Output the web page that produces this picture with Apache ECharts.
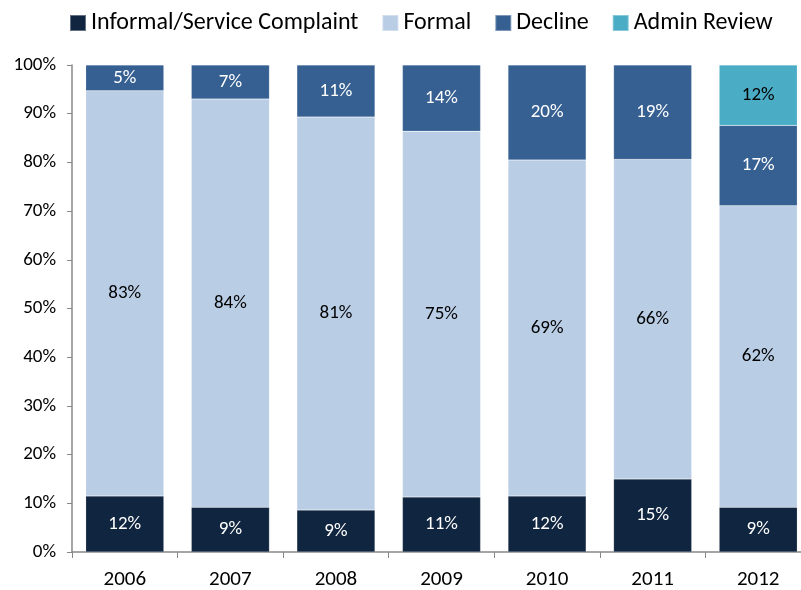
<!DOCTYPE html>
<html>
<head>
<meta charset="utf-8">
<script src="https://cdn.jsdelivr.net/npm/echarts@6/dist/echarts.min.js"></script>
<style>
html,body{margin:0;padding:0;background:#fff;overflow:hidden;width:801px;height:590px;}
#chart{width:812px;height:590px;}
</style>
</head>
<body>
<div id="chart"></div>
<script>
var years = ['2006','2007','2008','2009','2010','2011','2012'];
var informal = [11.5, 9.2, 8.6, 11.3, 11.5, 15.0, 9.2];
var formal = [83.2, 83.8, 80.7, 75.1, 69.0, 65.6, 61.9];
var decline = [5.3, 7.0, 10.7, 13.6, 19.5, 19.4, 16.5];
var adminReview = [null, null, null, null, null, null, 12.4];

var FONT = 'Carlito, Lato, "Open Sans", sans-serif';
var chart = echarts.init(document.getElementById('chart'));
function lbl(color){
  return {show:true, position:'inside', color:color, fontSize:19, fontFamily:FONT,
    formatter:function(p){ return p.value==null ? '' : Math.round(p.value)+'%'; }};
}
function ser(name, data, color, lc){
  return {name:name, type:'bar', stack:'s', data:data, barCategoryGap:'26%',
    itemStyle:{color:color, borderColor:'rgba(255,255,255,0.35)', borderWidth:0.5},
    label:lbl(lc)};
}
chart.setOption({
  animation:false,
  textStyle:{fontFamily:FONT},
  legend:{top:6, left:64, itemWidth:16, itemHeight:16, itemGap:23, icon:'rect',
    textStyle:{fontSize:24, color:'#000', fontFamily:FONT}},
  grid:{left:72, right:1, top:65, bottom:38, containLabel:false},
  xAxis:{type:'category', data:years, boundaryGap:true,
    axisLine:{lineStyle:{color:'#888', width:1.5}},
    axisTick:{show:true, length:6, lineStyle:{color:'#888'}},
    axisLabel:{fontSize:21, color:'#000', margin:17, fontFamily:FONT}},
  yAxis:{type:'value', min:0, max:100, interval:10,
    axisLine:{show:true, lineStyle:{color:'#888', width:1.5}},
    axisTick:{show:true, length:5, lineStyle:{color:'#888'}},
    splitLine:{show:false},
    axisLabel:{fontSize:19, color:'#000', margin:16, fontFamily:FONT, formatter:'{value}%'}},
  series:[
    ser('Informal/Service Complaint', informal, '#10253F', '#fff'),
    ser('Formal', formal, '#B9CDE5', '#000'),
    ser('Decline', decline, '#366092', '#fff'),
    ser('Admin Review', adminReview, '#4BACC6', '#000')
  ]
});
</script>
</body>
</html>
